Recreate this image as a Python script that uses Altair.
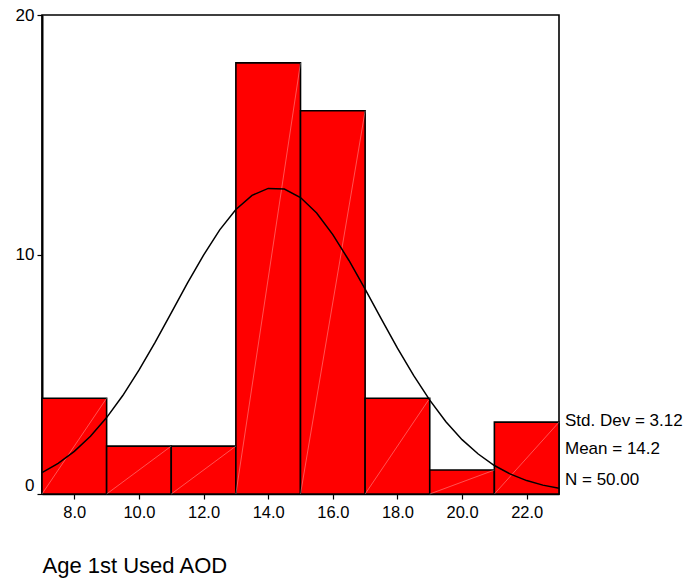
import altair as alt
import pandas as pd

# Histogram bins (width 2) and counts
bin_start = [7, 9, 11, 13, 15, 17, 19, 21]
bin_end = [9, 11, 13, 15, 17, 19, 21, 23]
counts = [4, 2, 2, 18, 16, 4, 1, 3]

# Fitted normal curve
curve_x = [7, 7.5, 8, 8.5, 9, 9.5, 10, 10.5, 11, 11.5, 12, 12.5, 13, 13.5, 14,
           14.5, 15, 15.5, 16, 16.5, 17, 17.5, 18, 18.5, 19, 19.5, 20, 20.5,
           21, 21.5, 22, 22.5, 23]
curve_y = [0.89, 1.28, 1.78, 2.41, 3.19, 4.11, 5.17, 6.33, 7.56, 8.80, 9.97,
           11.03, 11.88, 12.47, 12.76, 12.73, 12.38, 11.73, 10.83, 9.75, 8.55,
           7.31, 6.09, 4.95, 3.92, 3.02, 2.27, 1.67, 1.19, 0.83, 0.56, 0.37, 0.24]

x_ticks = [8, 10, 12, 14, 16, 18, 20, 22]
y_ticks = [0, 10, 20]
stats = ["Std. Dev = 3.12", "Mean = 14.2", "N = 50.00"]
title = "Age 1st Used AOD"

FONT = "Liberation Sans"
W, H = 517, 479

bars = pd.DataFrame({"x0": bin_start, "x1": bin_end, "n": counts,
                     "zero": [0] * len(counts)})
curve = pd.DataFrame({"x": curve_x, "y": curve_y})
stat_df = pd.DataFrame({"t": stats, "py": [406, 434, 465]})

xs = alt.Scale(domain=[7, 23], nice=False, zero=False)
ys = alt.Scale(domain=[0, 20], nice=False)

xaxis = alt.Axis(values=x_ticks, format=".1f", grid=False, domainColor="black",
                 domainWidth=1.5, tickColor="black", tickSize=5, tickWidth=1.2,
                 labelFont=FONT, labelFontSize=16.5,
                 labelColor="black", labelPadding=5, title=title,
                 titleFont=FONT, titleFontSize=22, titleFontWeight="normal",
                 titleColor="black", titleAnchor="start", titleAlign="left",
                 titleBaseline="middle", titleX=0, titleY=71)
yaxis = alt.Axis(values=y_ticks, grid=False, domainColor="black",
                 domainWidth=2, tickColor="black", tickSize=5, tickWidth=1.2,
                 labelFont=FONT, labelFontSize=17,
                 labelColor="black", labelPadding=3, title=None,
                 labelOffset=alt.expr("datum.value == 0 ? -9 : 0"))

rect = alt.Chart(bars).mark_rect(color="#ff0000", stroke="black",
                                 strokeWidth=1.6).encode(
    x=alt.X("x0:Q", scale=xs, axis=xaxis),
    x2="x1:Q",
    y=alt.Y("n:Q", scale=ys, axis=yaxis),
    y2="zero:Q",
)

diag = alt.Chart(bars).mark_rule(color="white", strokeWidth=0.6,
                                 opacity=0.55).encode(
    x=alt.X("x0:Q", scale=xs),
    x2="x1:Q",
    y=alt.Y("zero:Q", scale=ys),
    y2="n:Q",
)

line = alt.Chart(curve).mark_line(color="black", strokeWidth=1.5).encode(
    x=alt.X("x:Q", scale=xs),
    y=alt.Y("y:Q", scale=ys),
)

txt = alt.Chart(stat_df).mark_text(align="left", baseline="middle", font=FONT,
                                   fontSize=17, color="black").encode(
    x=alt.value(W + 6),
    y=alt.Y("py:Q", scale=None),
    text="t:N",
)

chart = alt.layer(rect, diag, line, txt).properties(
    width=W, height=H,
    autosize=alt.AutoSizeParams(type="none"),
    padding={"left": 42, "top": 15, "right": 127, "bottom": 87},
    background="white",
).configure_view(stroke="black", strokeWidth=1.6)

chart.save("out.html", embed_options={"renderer": "svg", "actions": False})
